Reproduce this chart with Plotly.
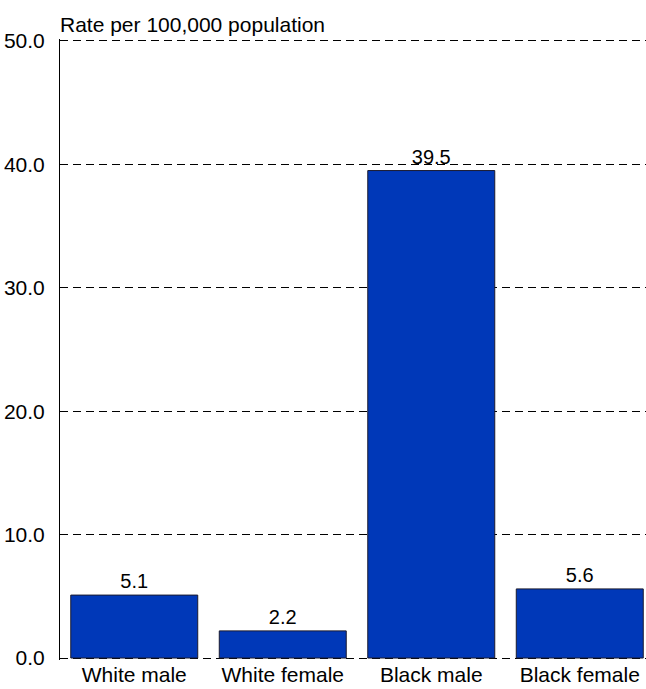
import plotly.graph_objects as go

categories = ["White male", "White female", "Black male", "Black female"]
rates = [5.1, 2.2, 39.5, 5.6]
rate_labels = ["5.1", "2.2", "39.5", "5.6"]
y_ticks = [0, 10, 20, 30, 40, 50]
y_tick_labels = ["0.0", "10.0", "20.0", "30.0", "40.0", "50.0"]

FONT = "Liberation Sans, Arial, sans-serif"

fig = go.Figure()
fig.add_trace(go.Bar(
    x=list(range(len(categories))),
    y=rates,
    text=rate_labels,
    textposition="outside",
    textfont=dict(family=FONT, size=20, color="black"),
    cliponaxis=False,
    width=0.855,
    marker=dict(color="#0038B8", line=dict(color="#1a1a2e", width=1)),
    hoverinfo="skip",
))

fig.update_layout(
    width=646,
    height=689,
    margin=dict(l=60, r=0, t=39, b=29, autoexpand=False),
    paper_bgcolor="white",
    plot_bgcolor="white",
    showlegend=False,
    font=dict(family=FONT, size=21, color="black"),
    xaxis=dict(
        tickmode="array",
        tickvals=list(range(len(categories))),
        ticktext=categories,
        range=[-0.5, 3.446],
        showgrid=False,
        zeroline=False,
        showline=False,
        ticks="",
        ticklabelstandoff=0,
        tickfont=dict(size=21),
    ),
    yaxis=dict(
        range=[-0.16, 50.16],
        tickmode="array",
        tickvals=y_ticks,
        ticktext=y_tick_labels,
        showgrid=True,
        gridcolor="black",
        gridwidth=1,
        griddash="8px,5px",
        zeroline=False,
        showline=True,
        linecolor="black",
        linewidth=1,
        ticks="",
        ticklabelstandoff=10,
        tickfont=dict(size=21),
    ),
    annotations=[dict(
        text="Rate per 100,000 population",
        xref="paper", yref="paper",
        x=0, y=1, xanchor="left", yanchor="bottom",
        xshift=-2, yshift=1, showarrow=False,
        font=dict(size=21, color="black"),
    )],
)

fig.write_html(
    "out.html",
    config={"displayModeBar": False},
    post_script="document.body.style.margin='0';document.body.style.overflow='hidden';",
)
